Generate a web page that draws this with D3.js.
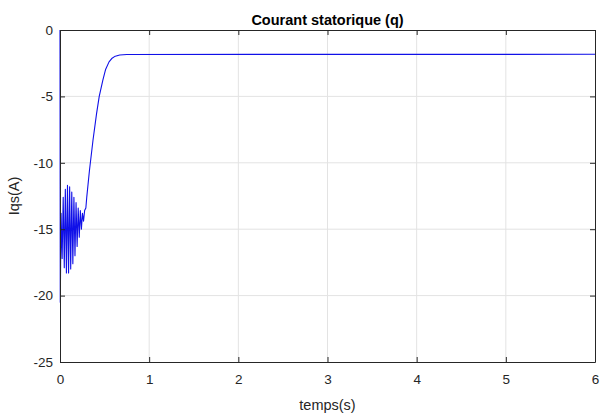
<!DOCTYPE html>
<html>
<head>
<meta charset="utf-8">
<script src="https://cdn.jsdelivr.net/npm/d3@7"></script>
<style>
  html, body { margin: 0; padding: 0; background: #fff; }
  svg { display: block; }
  text { font-family: "Liberation Sans", Arial, Helvetica, sans-serif; }
</style>
</head>
<body>
<svg id="chart" width="607" height="419"></svg>
<script>
// Stator current, q component, during start-up
const timeS = [0, 0.003, 0.012, 0.024, 0.036, 0.048, 0.060, 0.072, 0.084, 0.096,
  0.108, 0.120, 0.132, 0.144, 0.156, 0.168, 0.180, 0.192, 0.204, 0.216,
  0.228, 0.240, 0.252, 0.264, 0.276, 0.290, 0.300, 0.330, 0.370, 0.410,
  0.440, 0.480, 0.510, 0.550, 0.580, 0.620, 0.670, 0.750, 6.0];
const iqsA = [0, -20.5, -13.8, -17.2, -12.6, -17.9, -12.0, -18.3, -11.7, -18.3,
  -11.8, -18.0, -12.2, -17.6, -12.6, -17.0, -13.0, -16.3, -13.4, -15.6,
  -13.6, -15.0, -13.8, -14.4, -13.6, -13.4, -12.6, -10.6, -8.3, -6.3,
  -5.0, -3.8, -3.0, -2.4, -2.15, -1.97, -1.88, -1.84, -1.83];

const xTicks = [0, 1, 2, 3, 4, 5, 6];
const yTicks = [0, -5, -10, -15, -20, -25];

const titleText = "Courant statorique (q)";
const xLabel = "temps(s)";
const yLabel = "Iqs(A)";

const svg = d3.select("#chart");
const m = { left: 60, right: 595, top: 30, bottom: 362 };

const x = d3.scaleLinear().domain([0, 6]).range([m.left, m.right]);
const y = d3.scaleLinear().domain([-25, 0]).range([m.bottom, m.top]);

const axisColor = "#262626";
const gridColor = "#e3e3e3";

// grid
const grid = svg.append("g");
grid.selectAll("line.gx").data(xTicks.slice(1, -1)).join("line")
  .attr("x1", d => x(d)).attr("x2", d => x(d))
  .attr("y1", m.top).attr("y2", m.bottom)
  .attr("stroke", gridColor).attr("stroke-width", 1);
grid.selectAll("line.gy").data(yTicks.slice(1, -1)).join("line")
  .attr("y1", d => y(d)).attr("y2", d => y(d))
  .attr("x1", m.left).attr("x2", m.right)
  .attr("stroke", gridColor).attr("stroke-width", 1);

// curve
const line = d3.line().x((d, i) => x(timeS[i])).y(d => y(d));
svg.append("path")
  .datum(iqsA)
  .attr("d", line)
  .attr("fill", "none")
  .attr("stroke", "#1010e8")
  .attr("stroke-width", 1.1)
  .attr("stroke-linejoin", "round");

// axes (ticks pointing inward, mirrored on top and right)
const tickLen = 5;
const axB = svg.append("g").attr("transform", `translate(0,${m.bottom})`)
  .call(d3.axisBottom(x).tickValues(xTicks).tickSizeInner(-tickLen).tickSizeOuter(0).tickPadding(12).tickFormat(d3.format("d")));
const axT = svg.append("g").attr("transform", `translate(0,${m.top})`)
  .call(d3.axisTop(x).tickValues(xTicks).tickSizeInner(-tickLen).tickSizeOuter(0).tickFormat(""));
const axL = svg.append("g").attr("transform", `translate(${m.left},0)`)
  .call(d3.axisLeft(y).tickValues(yTicks).tickSizeInner(-tickLen).tickSizeOuter(0).tickPadding(7).tickFormat(d => String(d)));
const axR = svg.append("g").attr("transform", `translate(${m.right},0)`)
  .call(d3.axisRight(y).tickValues(yTicks).tickSizeInner(-tickLen).tickSizeOuter(0).tickFormat(""));

[axB, axT, axL, axR].forEach(a => {
  a.select(".domain").attr("stroke", axisColor).attr("stroke-width", 1);
  a.selectAll(".tick line").attr("stroke", axisColor);
  a.selectAll(".tick text").attr("fill", axisColor)
    .style("font-size", "13.5px").style("font-family", "'Liberation Sans', Arial, sans-serif");
});

// title and axis labels
svg.append("text")
  .attr("x", (m.left + m.right) / 2).attr("y", 25)
  .attr("text-anchor", "middle")
  .style("font-size", "14.5px").style("font-weight", "bold")
  .attr("fill", "#000")
  .text(titleText);

svg.append("text")
  .attr("x", (m.left + m.right) / 2).attr("y", 410)
  .attr("text-anchor", "middle")
  .style("font-size", "14.5px")
  .attr("fill", axisColor)
  .text(xLabel);

svg.append("text")
  .attr("transform", `translate(19,${(m.top + m.bottom) / 2}) rotate(-90)`)
  .attr("text-anchor", "middle")
  .style("font-size", "14.5px")
  .attr("fill", axisColor)
  .text(yLabel);
</script>
</body>
</html>
